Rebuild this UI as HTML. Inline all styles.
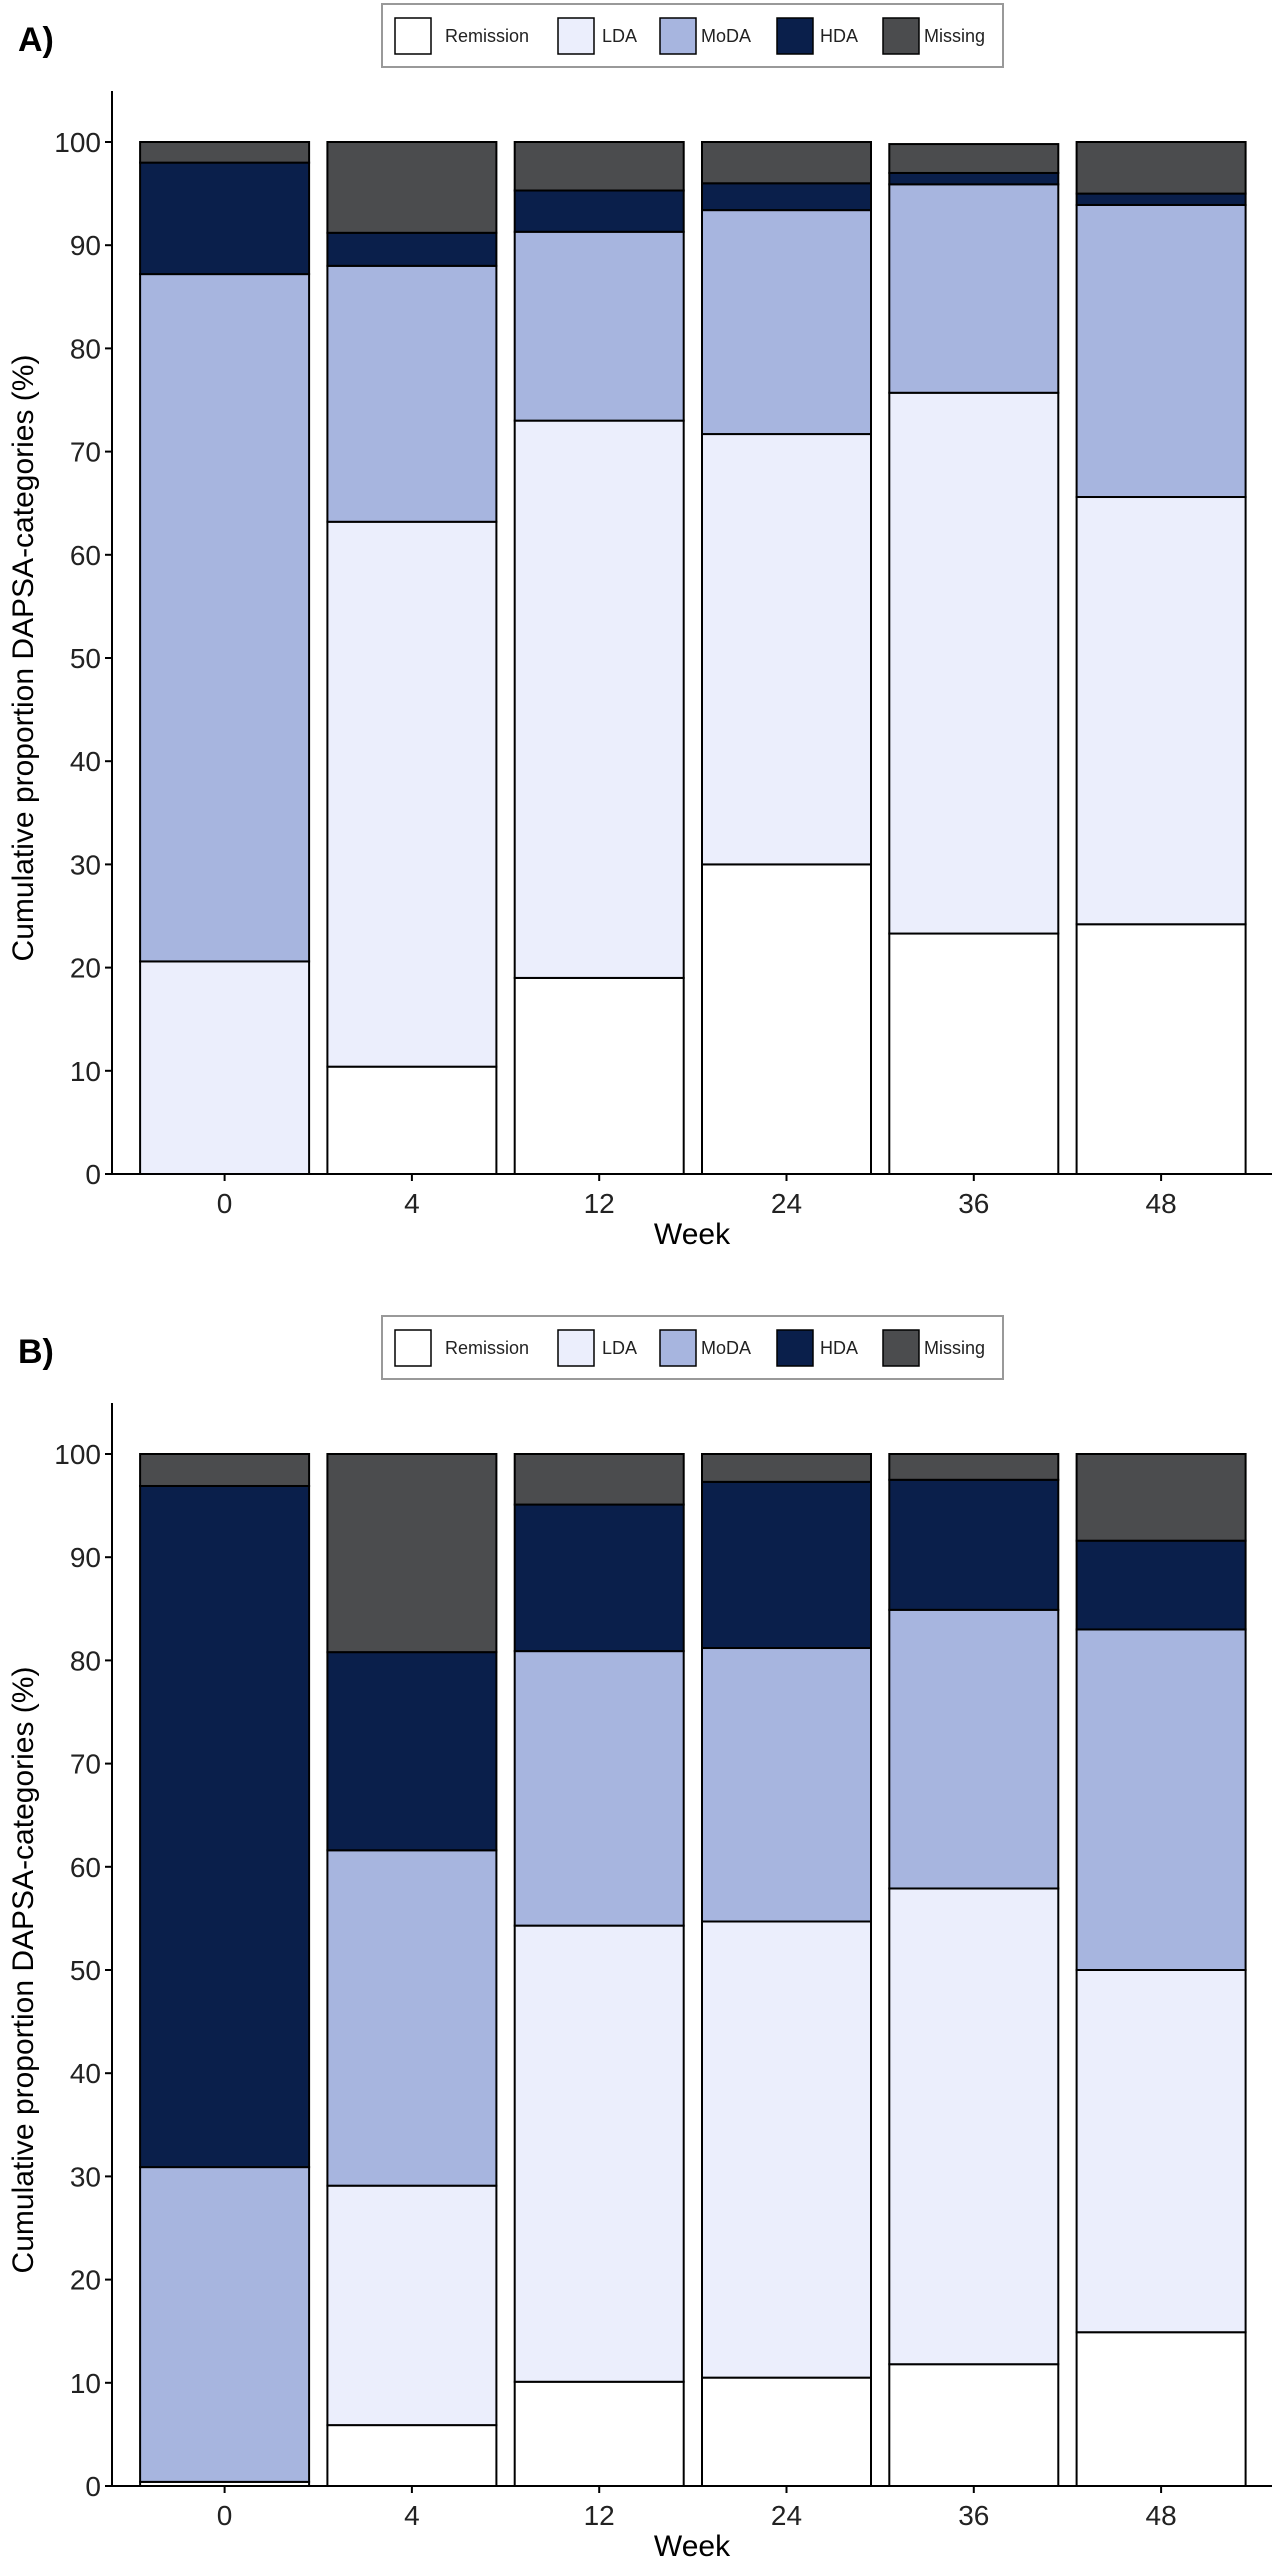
<!DOCTYPE html>
<html><head><meta charset="utf-8"><style>
html,body{margin:0;padding:0;background:#fff;}
svg{display:block;font-family:"Liberation Sans",Arial,sans-serif;}
</style></head><body>
<svg id="chart" width="1274" height="2574" viewBox="0 0 1274 2574" xmlns="http://www.w3.org/2000/svg"></svg>
<script>
const weeks = ["0","4","12","24","36","48"];
const categories = ["Remission","LDA","MoDA","HDA","Missing"];
const yTicks = [0,10,20,30,40,50,60,70,80,90,100];
const colors = ["#ffffff","#ebeefc","#a7b5df","#0a1f4b","#4b4c4e"];
// Panel A segment percentages
const aRemission = [0,10.4,19,30,23.3,24.2];
const aLDA = [20.6,52.8,54,41.7,52.4,41.4];
const aMoDA = [66.6,24.8,18.3,21.7,20.2,28.3];
const aHDA = [10.8,3.2,4,2.6,1.1,1.1];
const aMissing = [2,8.8,4.7,4,2.8,5];
// Panel B segment percentages
const bRemission = [0.4,5.9,10.1,10.5,11.8,14.9];
const bLDA = [0,23.2,44.2,44.2,46.1,35.1];
const bMoDA = [30.5,32.5,26.6,26.5,27,33];
const bHDA = [66,19.2,14.2,16.1,12.6,8.6];
const bMissing = [3.1,19.2,4.9,2.7,2.5,8.4];

const svg = document.getElementById('chart');
const NS = "http://www.w3.org/2000/svg";
function mk(tag, attrs, parent){const e=document.createElementNS(NS,tag);for(const k in attrs)e.setAttribute(k,attrs[k]);(parent||svg).appendChild(e);return e;}

function panel(id, label, series, off){
  const g = mk('g',{});
  
  
  const y0 = off+1174, y100 = off+142;
  const ys = v => y0 + (y100-y0)*v/100;
  const xs = i => 224.6 + i*187.3;
  const bw = 169;
  const pl = mk('text',{x:18,y:off+51,'font-size':34,'font-weight':'bold',fill:'#000'},g);
  pl.textContent = label;
  
  
  const lg = mk('g',{},g);
  
  
  mk('rect',{x:382,y:off+4,width:621,height:63,fill:'#fff',stroke:'#999','stroke-width':2},lg);
  const kx=[395,558,660,777,883], tx=[445,602,701,820,924];
  categories.forEach((c,j)=>{
    const it = mk('g',{},lg);
    
    
    mk('rect',{x:kx[j],y:off+18,width:36,height:36,fill:colors[j],stroke:'#000','stroke-width':1.5},it);
    const t = mk('text',{x:tx[j],y:off+42,'font-size':18,fill:'#222'},it);
    t.textContent = c;
  });
  weeks.forEach((w,i)=>{
    let cum=0;
    series.forEach((s,j)=>{
      const v=s[i];
      const r = mk('rect',{x:xs(i)-bw/2,y:ys(cum+v),width:bw,height:Math.max(0,ys(cum)-ys(cum+v)),fill:colors[j],stroke:'#000','stroke-width':2},g);
      
      
      cum+=v;
    });
  });
  const ax = mk('line',{x1:112,y1:off+91,x2:112,y2:y0,stroke:'#000','stroke-width':2},g);
  
  
  const bx = mk('line',{x1:111,y1:y0,x2:1272,y2:y0,stroke:'#000','stroke-width':2},g);
  
  
  yTicks.forEach(v=>{
    mk('line',{x1:105,x2:112,y1:ys(v),y2:ys(v),stroke:'#000','stroke-width':2},g);
    const t = mk('text',{x:101,y:ys(v)+10,'font-size':28,'text-anchor':'end',fill:'#222'},g);
    t.textContent = v;
    
    
  });
  weeks.forEach((w,i)=>{
    mk('line',{x1:xs(i),x2:xs(i),y1:y0,y2:y0+7,stroke:'#000','stroke-width':2},g);
    const t = mk('text',{x:xs(i),y:y0+39,'font-size':28,'text-anchor':'middle',fill:'#222'},g);
    t.textContent = w;
    
    
  });
  const xt = mk('text',{x:692,y:off+1244,'font-size':30,'text-anchor':'middle',fill:'#000'},g);
  xt.textContent = 'Week';
  
  
  const cy = (y0+y100)/2;
  const yt = mk('text',{x:0,y:0,'font-size':30,'text-anchor':'middle',fill:'#000',transform:'translate(33,'+cy+') rotate(-90)'},g);
  yt.textContent = 'Cumulative proportion DAPSA-categories (%)';
  
  
}
panel('a','A)',[aRemission,aLDA,aMoDA,aHDA,aMissing],0);
panel('b','B)',[bRemission,bLDA,bMoDA,bHDA,bMissing],1312);
</script>
</body></html>
